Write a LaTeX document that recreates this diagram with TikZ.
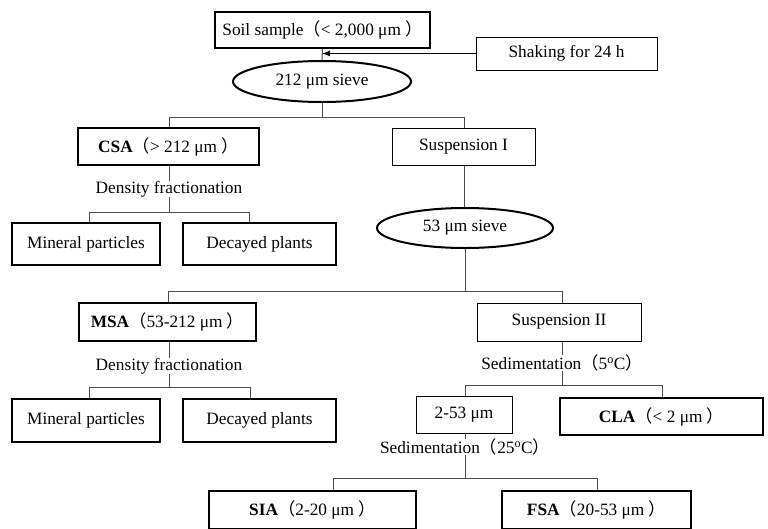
\documentclass[tikz,border=0pt]{standalone}
\usepackage{fontspec}
\setmainfont{Liberation Serif}
\newfontfamily\cjk{Noto Sans CJK SC}
\usetikzlibrary{shapes.geometric,arrows.meta}
\newcommand{\lp}{{\cjk （}}
\newcommand{\rp}{{\cjk ）}}
\tikzset{
  base/.style={inner sep=0pt, align=center, font=\fontsize{17.3}{20}\selectfont},
  thickbox/.style={base, draw, line width=2pt, rectangle},
  thinbox/.style={base, draw, line width=1pt, rectangle},
  sieve/.style={base, draw, line width=2pt, ellipse},
  conn/.style={draw=black!70, line width=1pt},
}
\begin{document}
\begin{tikzpicture}[x=1pt,y=-1pt]
\path[use as bounding box] (0,0) rectangle (768,528);
\clip (0,0) rectangle (768,528);

% nodes
\node[thickbox, minimum width=215, minimum height=36] (soil) at (322.5,30) {Soil sample\lp< 2,000 μm \rp};
\node[thinbox, minimum width=181, minimum height=33] (shake) at (566.5,53.5) {Shaking for 24 h};
\node[sieve, minimum width=178, minimum height=41] (e212) at (322,81.5) {212 μm sieve};

\node[thickbox, minimum width=181, minimum height=37] (csa) at (168.5,146.5) {\textbf{CSA}\lp> 212 μm \rp};
\node[thinbox, minimum width=143, minimum height=37] (s1) at (463.5,146.5) {Suspension I};
\node[base] (df1) at (169,189) {Density fractionation};
\node[thickbox, minimum width=148, minimum height=42] (min1) at (86,244) {Mineral particles};
\node[thickbox, minimum width=153, minimum height=42] (dec1) at (259.5,244) {Decayed plants};

\node[sieve, minimum width=176, minimum height=40] (e53) at (465,228) {53 μm sieve};

\node[thickbox, minimum width=177, minimum height=38] (msa) at (167.5,322) {\textbf{MSA}\lp53-212 μm \rp};
\node[thinbox, minimum width=164, minimum height=38] (s2) at (559,322) {Suspension II};
\node[base] (df2) at (169,366) {Density fractionation};
\node[thickbox, minimum width=148, minimum height=43] (min2) at (86,420.5) {Mineral particles};
\node[thickbox, minimum width=153, minimum height=43] (dec2) at (259.5,420.5) {Decayed plants};

\node[base] (sed5) at (562,363) {Sedimentation\lp5\textsuperscript{o}C\rp};
\node[thinbox, minimum width=96, minimum height=37] (f253) at (464,414.5) {2-53 μm};
\node[thickbox, minimum width=203, minimum height=37] (cla) at (661.5,416.5) {\textbf{CLA}\lp< 2 μm \rp};
\node[base] (sed25) at (465,447) {Sedimentation\lp25\textsuperscript{o}C\rp};
\node[thickbox, minimum width=207, minimum height=38] (sia) at (312.5,510) {\textbf{SIA}\lp2-20 μm \rp};
\node[thickbox, minimum width=189, minimum height=38] (fsa) at (596.5,510) {\textbf{FSA}\lp20-53 μm \rp};

% coordinates
\coordinate (arr) at (322,53.5);
\coordinate (j1) at (322,117);
\coordinate (j1l) at (169,117);
\coordinate (j1r) at (464,117);
\coordinate (j2l) at (89,212);
\coordinate (j2r) at (249,212);
\coordinate (j3) at (465,291);
\coordinate (j3l) at (168,291);
\coordinate (j3r) at (562,291);
\coordinate (j4l) at (89,387);
\coordinate (j4r) at (250,387);
\coordinate (j5l) at (465,385);
\coordinate (j5r) at (662,385);
\coordinate (j6l) at (333,478);
\coordinate (j6r) at (597,478);

% connectors
\draw[conn] (soil.south) -- (e212.north);
\draw[draw=black, line width=1pt, -{Latex[length=8pt,width=6pt]}] (shake.west) -- (arr);
\draw[conn] (e212.south) -- (j1);
\draw[conn] (j1l |- csa.north) -- (j1l) -- (j1r) -- (j1r |- s1.north);

\draw[conn] (csa.south -| df1) -- (df1.north);
\draw[conn] (df1.south) -- (df1.south |- j2l);
\draw[conn] (j2l |- min1.north) -- (j2l) -- (j2r) -- (j2r |- dec1.north);

\draw[conn] (j1r |- s1.south) -- (j1r |- e53.north);
\draw[conn] (e53.south) -- (j3);
\draw[conn] (j3l |- msa.north) -- (j3l) -- (j3r) -- (j3r |- s2.north);

\draw[conn] (msa.south -| df2) -- (df2.north);
\draw[conn] (df2.south) -- (df2.south |- j4l);
\draw[conn] (j4l |- min2.north) -- (j4l) -- (j4r) -- (j4r |- dec2.north);

\draw[conn] (j3r |- s2.south) -- (j3r |- sed5.north);
\draw[conn] (j3r |- sed5.south) -- (j3r |- j5l);
\draw[conn] (j5l |- f253.north) -- (j5l) -- (j5r) -- (j5r |- cla.north);

\draw[conn] (j5l |- f253.south) -- (j5l |- sed25.north);
\draw[conn] (j5l |- sed25.south) -- (j5l |- j6l);
\draw[conn] (j6l |- sia.north) -- (j6l) -- (j6r) -- (j6r |- fsa.north);
\end{tikzpicture}
\end{document}
